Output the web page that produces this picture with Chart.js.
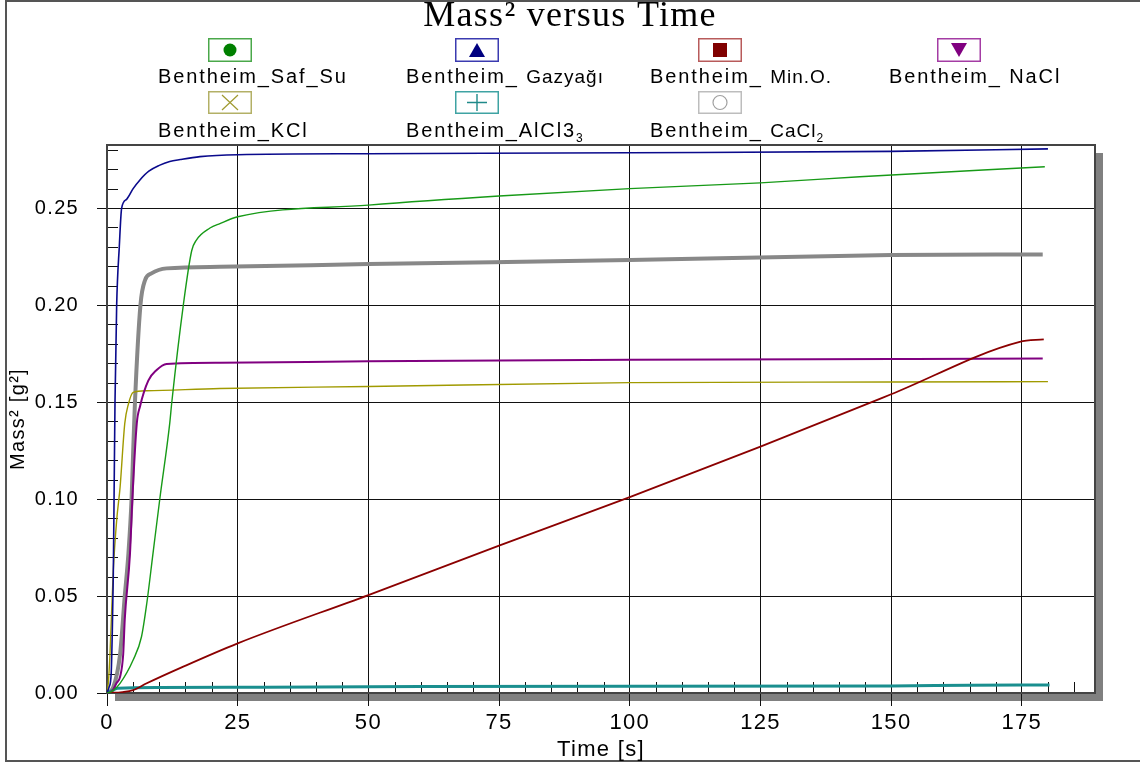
<!DOCTYPE html>
<html>
<head>
<meta charset="utf-8">
<title>Mass² versus Time</title>
<script src="https://cdn.jsdelivr.net/npm/chart.js@4.4.1/dist/chart.umd.min.js"></script>
<style>
  html, body { margin: 0; padding: 0; background: #fff; }
  #wrap { position: relative; width: 1140px; height: 766px; overflow: hidden; }
  #wrap canvas { position: absolute; left: 0; top: 0; }
  .lab { position: absolute; font: 20px Arial, "Liberation Sans", sans-serif; letter-spacing: 1.9px; line-height: 20px; white-space: nowrap; color: #000; }
  .lab small { font-size: 19px; letter-spacing: 1px; }
  .lab sub { font-size: 12px; vertical-align: -5px; line-height: 0; letter-spacing: 0; }
  .box { position: absolute; }
</style>
</head>
<body>
<div id="wrap">
  <canvas id="massChart" width="1140" height="766"></canvas>
  <div id="legend"></div>
</div>
<script>
// series: time [s] and mass² [g²]
const safSuT = [0, 1, 2.5, 5, 6.6, 7.6, 8.8, 10.1, 12, 12.4, 14.6, 16.2, 17.1, 19.7, 21.6, 25, 50, 75, 100, 125, 144, 179.4];
const safSuM = [0, 0.001, 0.005, 0.017, 0.029, 0.046, 0.072, 0.10, 0.139, 0.15, 0.20, 0.228, 0.2335, 0.2397, 0.242, 0.2455, 0.2515, 0.2562, 0.260, 0.263, 0.2661, 0.2713];

const gazyagiT = [0, 0.4, 0.8, 1.0, 1.2, 1.35, 1.53, 1.85, 2.35, 2.8, 3.75, 5, 6.3, 8, 10, 12, 14, 17.8, 25, 50, 100, 150, 180];
const gazyagiM = [0, 0.003, 0.01, 0.03, 0.06, 0.10, 0.15, 0.20, 0.23, 0.25, 0.2545, 0.26, 0.2645, 0.269, 0.272, 0.274, 0.275, 0.2765, 0.2775, 0.278, 0.2785, 0.2792, 0.2805];

const minOT = [0, 3, 5, 7.6, 14.6, 25, 50, 75, 100, 125, 150, 174.6, 179.2];
const minOM = [0, 0.0005, 0.0015, 0.005, 0.0136, 0.0256, 0.0505, 0.076, 0.101, 0.127, 0.154, 0.181, 0.1823];

const naclT = [0, 1, 1.8, 2.5, 3.1, 3.4, 4.4, 4.85, 5.7, 6.3, 7.9, 9.5, 11.4, 21.6, 50, 100, 150, 179];
const naclM = [0, 0.001, 0.005, 0.0084, 0.02, 0.038, 0.072, 0.10, 0.139, 0.1476, 0.161, 0.1665, 0.1696, 0.1702, 0.171, 0.1718, 0.1722, 0.1724];

const kclT = [0, 0.25, 0.57, 1.2, 1.85, 2.5, 3.4, 4.1, 5, 7.6, 21.6, 50, 100, 150, 180];
const kclM = [0, 0.005, 0.02, 0.063, 0.089, 0.106, 0.139, 0.149, 0.155, 0.1558, 0.157, 0.158, 0.16, 0.1603, 0.1605];

const alcl3T = [0, 1.2, 2, 10, 30, 60, 100, 150, 165, 180.3];
const alcl3M = [0, 0.0015, 0.0025, 0.0028, 0.003, 0.0033, 0.0035, 0.0036, 0.004, 0.0041];

const cacl2T = [0, 1.2, 2.5, 3.4, 4.1, 4.7, 5.0, 5.35, 6.4, 7.3, 8.5, 11.4, 21.6, 50, 100, 150, 179];
const cacl2M = [0, 0.003, 0.02, 0.05, 0.072, 0.10, 0.124, 0.15, 0.20, 0.213, 0.2163, 0.2189, 0.2197, 0.2211, 0.2232, 0.2258, 0.2261];

const seriesNames = ['Bentheim_Saf_Su', 'Bentheim_ Gazyağı', 'Bentheim_ Min.O.', 'Bentheim_ NaCl',
                     'Bentheim_KCl', 'Bentheim_AlCl3₃', 'Bentheim_ CaCl₂'];
const legendHtml = ['Bentheim_Saf_Su', 'Bentheim_ <small>Gazyağı</small>', 'Bentheim_ <small>Min.O.</small>',
                    'Bentheim_ NaCl', 'Bentheim_KCl', 'Bentheim_AlCl3<sub>3</sub>', 'Bentheim_ <small>CaCl</small><sub>2</sub>'];

const xTickValues = [0, 25, 50, 75, 100, 125, 150, 175];
const yTickValues = [0, 0.05, 0.10, 0.15, 0.20, 0.25];

const lineColors = ['#179a17', '#0a0a8c', '#8b0000', '#800080', '#a09a00', '#1a8f8f', '#888888'];
const boxColors  = ['#4aa84a', '#3b3bb0', '#b85b5b', '#a43ca4', '#b3b066', '#3fa3a3', '#bdbdbd'];
const markers    = ['dot', 'tri', 'square', 'down', 'cross', 'plus', 'ring'];
const widths     = [1.4, 1.6, 1.8, 2, 1.4, 3, 4];

function pts(t, m) { return t.map((x, i) => ({ x: x, y: m[i] })); }
const seriesData = [pts(safSuT, safSuM), pts(gazyagiT, gazyagiM), pts(minOT, minOM), pts(naclT, naclM),
                    pts(kclT, kclM), pts(alcl3T, alcl3M), pts(cacl2T, cacl2M)];

// legend (HTML, boxes with a marker, label underneath)
function markerSvg(kind, c) {
  switch (kind) {
    case 'dot': return `<circle cx="22" cy="12" r="6.5" fill="${c}"/>`;
    case 'tri': return `<polygon points="14,19 30,19 22,5" fill="${c}"/>`;
    case 'square': return `<rect x="15" y="5" width="14" height="14" fill="${c}"/>`;
    case 'down': return `<polygon points="14,5 30,5 22,19" fill="${c}"/>`;
    case 'cross': return `<path d="M14,4 L30,19 M30,4 L14,19" stroke="${c}" stroke-width="1.2" fill="none"/>`;
    case 'plus': return `<path d="M12,11.5 L32,11.5 M22,3 L22,20" stroke="${c}" stroke-width="1.4" fill="none"/>`;
    case 'ring': return `<circle cx="22" cy="11.5" r="7" stroke="${c}" stroke-width="1.2" fill="none"/>`;
  }
}
const legCols = [158, 406, 650, 889];
const legBoxCx = [230, 477, 720, 959];
const legRows = [{ boxTop: 38, boxH: 24, labTop: 66 }, { boxTop: 91, boxH: 23, labTop: 120 }];
const markerFill = ['#008000', '#000080', '#800000', '#800080', '#a09a30', '#208a8a', '#a0a0a0'];
let legend = '';
seriesNames.forEach((name, i) => {
  const r = legRows[Math.floor(i / 4)], c = i % 4;
  legend += `<svg class="box" style="left:${legBoxCx[c] - 22}px;top:${r.boxTop}px" width="44" height="${r.boxH}">` +
            `<rect x="0.75" y="0.75" width="42.5" height="${r.boxH - 1.5}" fill="#fff" stroke="${boxColors[i]}" stroke-width="1.5"/>` +
            markerSvg(markers[i], markerFill[i]) + `</svg>`;
  legend += `<div class="lab" style="left:${legCols[c]}px;top:${r.labTop}px">${legendHtml[i]}</div>`;
});
document.getElementById('legend').innerHTML = legend;

// frame, drop shadow and minor ticks
const framePlugin = {
  id: 'framePlugin',
  beforeDraw(chart) {
    const { ctx, chartArea: a } = chart;
    ctx.letterSpacing = '1.3px';
    ctx.save();
    ctx.fillStyle = '#fff';
    ctx.fillRect(0, 0, chart.width, chart.height);
    ctx.strokeStyle = '#555';
    ctx.lineWidth = 2;
    ctx.strokeRect(6, 1, chart.width + 10, 760);
    ctx.fillStyle = '#808080';
    ctx.fillRect(a.left + 8, a.top + 8, a.right - a.left, a.bottom - a.top);
    ctx.fillStyle = '#fff';
    ctx.fillRect(a.left, a.top, a.right - a.left, a.bottom - a.top);
    ctx.restore();
  },
  beforeDatasetsDraw(chart) {
    const { ctx, chartArea: a, scales } = chart;
    ctx.save();
    ctx.strokeStyle = '#111';
    ctx.lineWidth = 1;
    ctx.beginPath();
    for (let v = 5; v < 189; v += 5) {
      if (v % 25 === 0) continue;
      const x = Math.round(scales.x.getPixelForValue(v)) + 0.5;
      ctx.moveTo(x, a.bottom); ctx.lineTo(x, a.bottom - 11);
    }
    for (let k = 1; k <= 28; k++) {
      if (k % 5 === 0) continue;
      const y = Math.round(scales.y.getPixelForValue(k / 100)) + 0.5;
      ctx.moveTo(a.left, y); ctx.lineTo(a.left + 11, y);
    }
    ctx.stroke();
    ctx.strokeStyle = '#444';
    ctx.lineWidth = 2;
    ctx.strokeRect(a.left, a.top, a.right - a.left, a.bottom - a.top);
    ctx.restore();
  },
  afterDraw(chart) {
    chart.ctx.letterSpacing = '0px';
  }
};

const ctx = document.getElementById('massChart');

new Chart(ctx, {
  type: 'line',
  data: {
    datasets: seriesData.map((d, i) => ({
      label: seriesNames[i],
      data: d,
      borderColor: lineColors[i],
      borderWidth: widths[i],
      pointRadius: 0,
      fill: false,
      cubicInterpolationMode: 'monotone'
    }))
  },
  options: {
    responsive: false,
    animation: false,
    layout: { padding: 0 },
    plugins: {
      legend: { display: false },
      tooltip: { enabled: false },
      title: {
        display: true,
        text: 'Mass² versus Time',
        color: '#000',
        font: { family: '"Times New Roman", "Liberation Serif", serif', size: 36, weight: 'normal', lineHeight: 0.9 },
        padding: { top: 0, bottom: 112.6 }
      }
    },
    scales: {
      x: {
        type: 'linear',
        min: 0,
        max: 189,
        afterFit(scale) { scale.height = 73; },
        afterBuildTicks(scale) { scale.ticks = xTickValues.map(v => ({ value: v })); },
        ticks: { color: '#000', padding: 4, maxRotation: 0, includeBounds: false,
                 font: { family: 'Arial, "Liberation Sans", sans-serif', size: 22 } },
        grid: { color: '#111', lineWidth: 1, tickLength: 13, tickColor: '#111' },
        border: { display: false },
        title: { display: true, text: 'Time [s]', color: '#000', padding: { top: 0, bottom: 3 },
                 font: { family: 'Arial, "Liberation Sans", sans-serif', size: 22 } }
      },
      y: {
        type: 'linear',
        min: 0,
        max: 0.2825,
        afterFit(scale) { scale.width = 107; },
        afterBuildTicks(scale) { scale.ticks = yTickValues.map(v => ({ value: v })); },
        ticks: { color: '#000', padding: 18, includeBounds: false,
                 callback: v => v.toFixed(2),
                 font: { family: 'Arial, "Liberation Sans", sans-serif', size: 20 } },
        grid: { color: '#111', lineWidth: 1, tickLength: 10, tickColor: '#111' },
        border: { display: false },
        title: { display: true, text: 'Mass² [g²]', color: '#000', padding: { top: 6, bottom: 0 },
                 font: { family: 'Arial, "Liberation Sans", sans-serif', size: 20 } }
      },
      // empty strip on the right so the plot ends where the original does
      yRight: {
        type: 'linear',
        position: 'right',
        min: 0,
        max: 1,
        afterFit(scale) { scale.width = 45; },
        ticks: { display: false },
        grid: { display: false, drawTicks: false },
        border: { display: false }
      }
    }
  },
  plugins: [framePlugin]
});
</script>
</body>
</html>
